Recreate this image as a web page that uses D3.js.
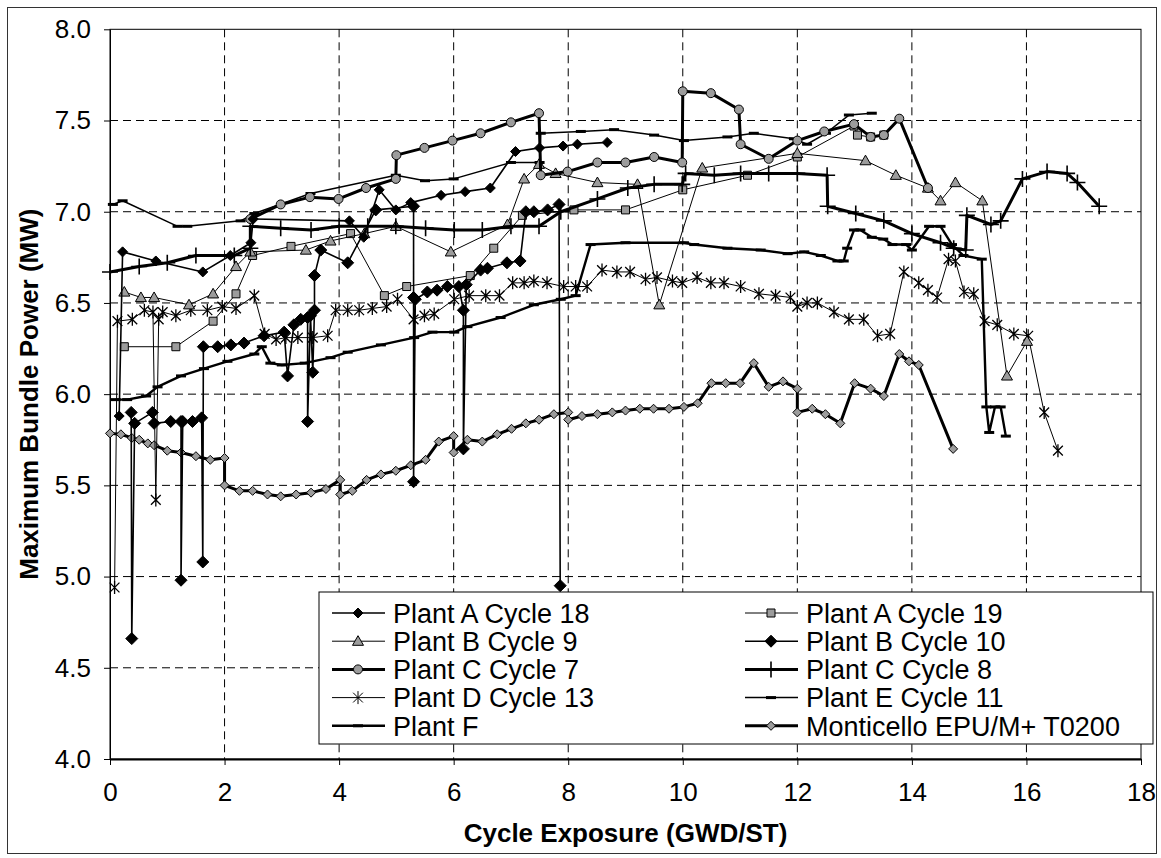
<!DOCTYPE html>
<html><head><meta charset="utf-8">
<script src="https://cdn.jsdelivr.net/npm/d3@7/dist/d3.min.js"></script>
<style>body{margin:0;background:#fff;} svg{display:block;font-family:"Liberation Sans",Arial,sans-serif;}</style>
</head><body><svg id="c" width="1161" height="858"></svg>
<script>
const xTicks=[0,2,4,6,8,10,12,14,16,18];
const yTicks=[4.0,4.5,5.0,5.5,6.0,6.5,7.0,7.5,8.0];
const seriesNames=["Plant A Cycle 18","Plant A Cycle 19","Plant B Cycle 9","Plant B Cycle 10","Plant C Cycle 7","Plant C Cycle 8","Plant D Cycle 13","Plant E Cycle 11","Plant F","Monticello EPU/M+ T0200"];

const plantA18=[[0.16,5.88],[0.22,6.78],[0.8,6.73],[1.62,6.67],[2.1,6.76],[2.46,6.83],[2.5,6.96],[4.18,6.95],[4.43,6.86],[4.7,7.12],[4.99,7.01],[5.25,7.05],[5.78,7.09],[6.2,7.11],[6.64,7.13],[7.08,7.33],[7.5,7.35],[7.91,7.36],[8.16,7.37],[8.68,7.38]];
const plantA19=[[0.25,6.26],[1.15,6.26],[1.8,6.40],[2.2,6.55],[2.49,6.76],[3.16,6.81],[4.2,6.88],[4.79,6.54],[5.18,6.59],[6.29,6.65],[6.7,6.8],[7.2,6.98],[8.1,7.01],[9.0,7.01],[10.0,7.12],[11.13,7.20],[12.0,7.30],[12.99,7.47],[13.05,7.42],[13.28,7.41],[13.51,7.42]];
const plantB9=[[0.25,6.56],[0.54,6.53],[0.77,6.53],[1.38,6.49],[1.8,6.55],[2.2,6.70],[2.45,6.78],[3.42,6.79],[3.85,6.84],[4.44,6.88],[4.99,6.92],[5.95,6.78],[6.94,6.93],[7.23,7.18],[7.49,7.26],[7.78,7.21],[8.51,7.16],[9.21,7.15],[9.59,6.49],[10.34,7.24],[12.0,7.32],[13.19,7.28],[13.72,7.20],[14.28,7.13],[14.5,7.06],[14.76,7.16],[15.23,7.06],[15.66,6.10],[16.01,6.29]];
const plantB10=[[0.37,5.90],[0.38,4.66],[0.43,5.84],[0.74,5.90],[0.77,5.84],[1.06,5.85],[1.24,5.85],[1.24,4.98],[1.27,5.85],[1.44,5.85],[1.6,5.87],[1.62,5.08],[1.63,6.26],[1.88,6.26],[2.11,6.27],[2.34,6.28],[2.69,6.32],[3.04,6.34],[3.1,6.10],[3.21,6.38],[3.33,6.41],[3.45,6.42],[3.45,5.85],[3.5,6.43],[3.54,6.12],[3.57,6.46],[3.57,6.65],[3.68,6.79],[4.15,6.72],[4.64,7.01],[5.3,7.03],[5.3,6.53],[5.3,5.52],[5.33,6.52],[5.54,6.56],[5.71,6.57],[5.89,6.59],[6.09,6.59],[6.17,6.46],[6.17,5.70],[6.22,6.6],[6.47,6.68],[6.59,6.69],[6.93,6.72],[7.16,6.73],[7.26,7.0],[7.4,7.0],[7.64,7.01],[7.84,7.04],[7.86,4.95]];
const plantC7=[[2.45,6.96],[2.98,7.04],[3.49,7.08],[3.99,7.07],[4.47,7.13],[4.99,7.18],[5.0,7.31],[5.49,7.35],[5.98,7.39],[6.47,7.43],[7.0,7.49],[7.49,7.54],[7.52,7.20],[7.99,7.22],[8.51,7.27],[9.0,7.27],[9.5,7.30],[9.99,7.27],[10.0,7.66],[10.49,7.65],[10.98,7.56],[11.01,7.37],[11.5,7.29],[12.0,7.39],[12.47,7.44],[12.99,7.48],[13.28,7.41],[13.51,7.42],[13.78,7.51],[14.28,7.13]];
const plantC8=[[0,6.67],[0.51,6.70],[1.0,6.72],[1.5,6.76],[2.17,6.76],[2.45,6.80],[2.45,6.92],[2.98,6.91],[3.51,6.90],[4.0,6.92],[4.5,6.92],[4.99,6.92],[5.51,6.91],[6.01,6.90],[6.5,6.90],[7.0,6.92],[7.49,6.92],[7.87,7.0],[8.51,7.07],[9.04,7.13],[9.5,7.15],[9.99,7.15],[10.05,7.21],[10.55,7.20],[11.01,7.21],[11.5,7.21],[12.0,7.21],[12.52,7.20],[12.53,7.03],[13.02,6.99],[13.51,6.95],[14.0,6.88],[14.5,6.83],[14.73,6.80],[14.94,6.79],[14.96,6.98],[15.38,6.93],[15.55,6.95],[15.93,7.18],[16.36,7.22],[16.71,7.21],[16.89,7.16],[17.27,7.03]];
const plantD13=[[0.08,4.94],[0.13,6.40],[0.39,6.41],[0.6,6.46],[0.75,6.45],[0.8,5.42],[0.85,6.41],[0.92,6.45],[1.15,6.43],[1.41,6.46],[1.7,6.46],[1.96,6.48],[2.2,6.47],[2.52,6.54],[2.7,6.33],[2.9,6.30],[3.07,6.31],[3.28,6.31],[3.54,6.31],[3.8,6.32],[3.94,6.46],[4.15,6.46],[4.35,6.46],[4.58,6.47],[4.83,6.48],[5.02,6.52],[5.3,6.41],[5.49,6.43],[5.66,6.44],[6.01,6.52],[6.27,6.54],[6.56,6.54],[6.8,6.54],[7.03,6.61],[7.23,6.61],[7.4,6.62],[7.63,6.61],[7.92,6.59],[8.13,6.59],[8.33,6.59],[8.59,6.68],[8.85,6.67],[9.08,6.67],[9.35,6.63],[9.55,6.64],[9.82,6.62],[9.99,6.61],[10.25,6.64],[10.49,6.61],[10.72,6.61],[11.01,6.59],[11.33,6.55],[11.62,6.54],[11.88,6.53],[12.0,6.48],[12.17,6.50],[12.35,6.50],[12.64,6.45],[12.9,6.41],[13.16,6.41],[13.4,6.32],[13.62,6.33],[13.86,6.67],[14.12,6.61],[14.28,6.57],[14.44,6.53],[14.64,6.74],[14.76,6.73],[14.91,6.56],[15.08,6.55],[15.27,6.40],[15.49,6.38],[15.78,6.33],[16.03,6.32],[16.31,5.90],[16.55,5.69]];
const plantE11=[[0.05,7.04],[0.22,7.06],[1.18,6.92],[1.35,6.92],[2.28,6.95],[2.52,6.99],[3.5,7.1],[4.99,7.2],[5.5,7.17],[6.0,7.18],[7.0,7.27],[7.5,7.27],[7.52,7.43],[8.22,7.44],[8.8,7.45],[9.5,7.42],[10.02,7.39],[10.78,7.41],[11.24,7.43],[11.94,7.40],[12.17,7.37],[12.5,7.43],[12.9,7.53],[13.3,7.54]];
const plantF=[[0.1,5.97],[0.3,5.97],[0.63,5.99],[0.83,6.04],[1.24,6.10],[1.64,6.14],[2.05,6.18],[2.52,6.22],[2.65,6.26],[2.8,6.17],[3.0,6.16],[3.4,6.17],[3.85,6.20],[4.15,6.23],[4.73,6.27],[5.31,6.31],[5.63,6.34],[6.01,6.34],[6.24,6.37],[6.82,6.42],[7.4,6.49],[7.87,6.52],[8.13,6.54],[8.39,6.82],[9.0,6.83],[10.02,6.83],[10.2,6.82],[10.78,6.80],[11.36,6.79],[11.83,6.77],[12.12,6.78],[12.41,6.76],[12.7,6.73],[12.81,6.73],[12.87,6.80],[12.99,6.90],[13.1,6.90],[13.3,6.86],[13.5,6.85],[13.66,6.82],[13.9,6.82],[14.0,6.79],[14.3,6.92],[14.5,6.92],[14.7,6.82],[14.9,6.76],[15.22,6.74],[15.3,5.93],[15.35,5.79],[15.45,5.93],[15.55,5.93],[15.64,5.77]];
const monticello=[[0,5.785],[0.19,5.78],[0.38,5.76],[0.51,5.75],[0.66,5.73],[0.77,5.72],[1.0,5.69],[1.24,5.68],[1.5,5.66],[1.75,5.64],[2.0,5.65],[2.0,5.50],[2.26,5.47],[2.49,5.47],[2.75,5.45],[2.98,5.44],[3.25,5.45],[3.51,5.46],[3.77,5.48],[4.02,5.53],[4.02,5.45],[4.23,5.47],[4.48,5.53],[4.73,5.56],[4.99,5.58],[5.25,5.61],[5.51,5.64],[5.74,5.74],[6.0,5.77],[6.0,5.68],[6.24,5.75],[6.5,5.74],[6.76,5.78],[7.01,5.81],[7.26,5.84],[7.49,5.86],[7.75,5.89],[8.0,5.90],[8.0,5.86],[8.24,5.88],[8.51,5.89],[8.77,5.90],[9.0,5.91],[9.25,5.92],[9.49,5.92],[9.76,5.92],[10.02,5.93],[10.26,5.95],[10.5,6.06],[10.75,6.06],[11.0,6.06],[11.24,6.17],[11.5,6.04],[11.75,6.07],[12.0,6.03],[12.0,5.90],[12.26,5.92],[12.49,5.89],[12.75,5.84],[13.0,6.06],[13.28,6.03],[13.51,5.99],[13.78,6.22],[13.95,6.18],[14.12,6.16],[14.72,5.70]];

const dataByName={"Plant A Cycle 18":plantA18,"Plant A Cycle 19":plantA19,"Plant B Cycle 9":plantB9,"Plant B Cycle 10":plantB10,"Plant C Cycle 7":plantC7,"Plant C Cycle 8":plantC8,"Plant D Cycle 13":plantD13,"Plant E Cycle 11":plantE11,"Plant F":plantF,"Monticello EPU/M+ T0200":monticello};

const GREY="#9c9c9c";
const styles={
 "Plant A Cycle 18":{sw:1.6,m:"diamond",ms:5,fill:"#000"},
 "Plant A Cycle 19":{sw:1,m:"square",ms:4,fill:GREY},
 "Plant B Cycle 9":{sw:1,m:"triangle",ms:5.5,fill:GREY},
 "Plant B Cycle 10":{sw:1.6,m:"diamond",ms:6,fill:"#000"},
 "Plant C Cycle 7":{sw:3,m:"circle",ms:4.5,fill:GREY},
 "Plant C Cycle 8":{sw:3,m:"plus",ms:8,fill:"none"},
 "Plant D Cycle 13":{sw:1,m:"star",ms:6.5,fill:"none"},
 "Plant E Cycle 11":{sw:1.5,m:"dash",ms:5,fill:"none"},
 "Plant F":{sw:2.4,m:"dash",ms:5,fill:"none"},
 "Monticello EPU/M+ T0200":{sw:3,m:"diamond",ms:4.5,fill:GREY}
};

function markerPath(t,s){
  switch(t){
    case "diamond": return `M0,${-s}L${s},0L0,${s}L${-s},0Z`;
    case "square": return `M${-s},${-s}H${s}V${s}H${-s}Z`;
    case "triangle": return `M0,${-s}L${s},${s*0.75}L${-s},${s*0.75}Z`;
    case "circle": return d3.symbol(d3.symbolCircle,Math.PI*s*s)();
    case "plus": return `M${-s},0H${s}M0,${-s}V${s}`;
    case "star": {const k=s*0.75;return `M0,${-s}V${s}M${-k},${-k}L${k},${k}M${k},${-k}L${-k},${k}`;}
    case "dash": return `M${-s},0H${s}`;
  }
}

const x=d3.scaleLinear().domain([0,18]).range([110,1141]);
const y=d3.scaleLinear().domain([4,8]).range([759,29.3]);
const svg=d3.select("#c");

svg.append("rect").attr("x",7.5).attr("y",7.5).attr("width",1149).attr("height",846).attr("fill","#fff").attr("stroke","#333").attr("stroke-width",1);

const g=svg.append("g");
g.append("g").selectAll("line").data(xTicks.filter(d=>d>0&&d<18)).join("line")
 .attr("x1",d=>x(d)).attr("x2",d=>x(d)).attr("y1",y(8)).attr("y2",y(4))
 .attr("stroke","#000").attr("stroke-width",1).attr("stroke-dasharray","8,5");
g.append("g").selectAll("line").data(yTicks.filter(d=>d>4&&d<8)).join("line")
 .attr("y1",d=>y(d)).attr("y2",d=>y(d)).attr("x1",x(0)).attr("x2",x(18))
 .attr("stroke","#000").attr("stroke-width",1).attr("stroke-dasharray","8,5");
g.append("rect").attr("x",x(0)).attr("y",y(8)).attr("width",x(18)-x(0)).attr("height",y(4)-y(8))
 .attr("fill","none").attr("stroke","#000").attr("stroke-width",1);

const ya=g.append("g").attr("transform",`translate(${x(0)},0)`)
 .call(d3.axisLeft(y).tickValues(yTicks).tickFormat(d3.format(".1f")).tickSize(6).tickSizeOuter(0));
ya.select(".domain").attr("stroke","#000");
ya.selectAll(".tick text").attr("font-size",26).attr("fill","#000").attr("x",-19);
const xa=g.append("g").attr("transform",`translate(0,${y(4)})`)
 .call(d3.axisBottom(x).tickValues(xTicks).tickFormat(d3.format("d")).tickSize(6).tickSizeOuter(0));
xa.select(".domain").attr("stroke","#000").attr("stroke-width",1.8);
xa.selectAll(".tick text").attr("font-size",26).attr("fill","#000").attr("dy",null).attr("y",42);

svg.append("text").attr("x",(x(0)+x(18))/2).attr("y",842).attr("text-anchor","middle")
 .attr("font-size",26).attr("font-weight","bold").text("Cycle Exposure (GWD/ST)");
svg.append("text").attr("transform",`translate(38,${(y(4)+y(8))/2}) rotate(-90)`).attr("text-anchor","middle")
 .attr("font-size",26).attr("font-weight","bold").text("Maximum Bundle Power (MW)");

const line=d3.line().x(d=>x(d[0])).y(d=>y(d[1]));
const plotG=svg.append("g");
const drawOrder=["Monticello EPU/M+ T0200","Plant F","Plant E Cycle 11","Plant D Cycle 13","Plant A Cycle 19","Plant B Cycle 9","Plant C Cycle 8","Plant C Cycle 7","Plant A Cycle 18","Plant B Cycle 10"];
drawOrder.forEach(name=>{
  const st=styles[name], data=dataByName[name];
  const sg=plotG.append("g");
  sg.append("path").attr("d",line(data)).attr("fill","none").attr("stroke","#000").attr("stroke-width",st.sw).attr("stroke-linejoin","round");
  const mk=markerPath(st.m,st.ms);
  const filled=["diamond","square","triangle","circle"].includes(st.m);
  sg.selectAll("path.m").data(data).join("path").attr("class","m")
    .attr("transform",d=>`translate(${x(d[0])},${y(d[1])})`).attr("d",mk)
    .attr("fill",filled?st.fill:"none").attr("stroke","#000")
    .attr("stroke-width",st.m==="dash"?3:(st.m==="plus"?1.6:(filled?1:1.3)));
});

const lg=svg.append("g");
const lx0=319, ly0=592, lw=834, lh=152;
lg.append("rect").attr("x",lx0).attr("y",ly0).attr("width",lw).attr("height",lh).attr("fill","#fff").attr("stroke","#000").attr("stroke-width",1);
seriesNames.forEach((name,i)=>{
  const col=i%2,row=Math.floor(i/2);
  const sx=col===0?332:745, ty=613+row*28.2;
  const st=styles[name];
  const it=lg.append("g");
  it.append("line").attr("x1",sx).attr("x2",sx+53).attr("y1",ty).attr("y2",ty).attr("stroke","#000").attr("stroke-width",st.sw);
  const filled=["diamond","square","triangle","circle"].includes(st.m);
  it.append("path").attr("transform",`translate(${sx+26},${ty})`).attr("d",markerPath(st.m,st.ms))
    .attr("fill",filled?st.fill:"none").attr("stroke","#000").attr("stroke-width",st.m==="dash"?3:(st.m==="plus"?1.6:1));
  it.append("text").attr("x",sx+61).attr("y",ty).attr("dy","0.36em").attr("font-size",27).attr("fill","#000").text(name);
});
</script></body></html>
